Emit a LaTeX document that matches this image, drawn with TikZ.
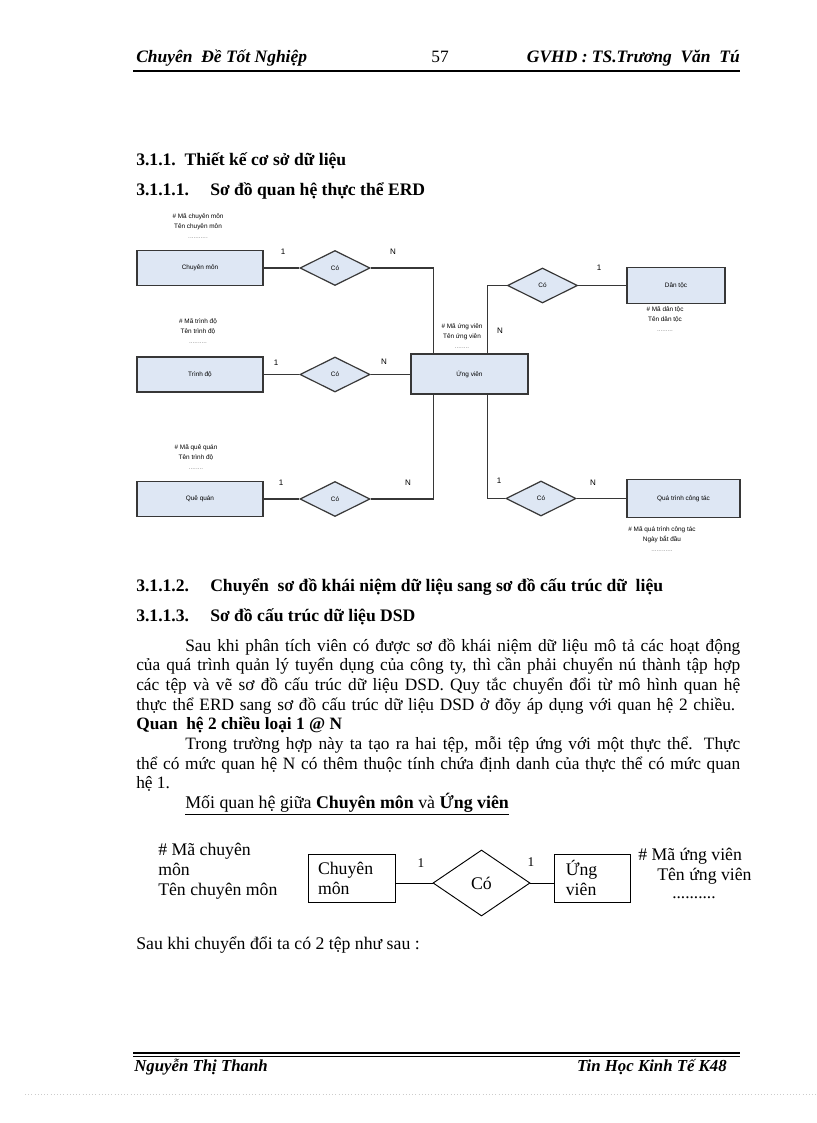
\documentclass[tikz,border=0pt]{standalone}
\usepackage{fontspec}
\setmainfont{Liberation Serif}
\newfontfamily\erdfont{Liberation Sans}
\usetikzlibrary{shapes.geometric, positioning, calc}
\definecolor{erdfill}{RGB}{222,231,244}
\definecolor{erdline}{RGB}{55,55,55}

\begin{document}
\begin{tikzpicture}[
  x=0.75pt, y=-0.75pt,
  every node/.style={inner sep=0pt},
  entity/.style={rectangle, draw=erdline, fill=erdfill, line width=0.9pt,
                 font=\erdfont\fontsize{4.8}{6}\selectfont},
  rel/.style={diamond, draw=erdline, fill=erdfill, line width=0.9pt,
              minimum width=52.5pt, minimum height=26.25pt,
              font=\erdfont\fontsize{4.8}{6}\selectfont},
  attr/.style={align=center, font=\erdfont\fontsize{4.8}{7.5}\selectfont},
  card/.style={font=\erdfont\fontsize{6}{7}\selectfont},
  link/.style={draw=erdline, line width=0.9pt},
  bodyline/.style={anchor=base west, font=\fontsize{13}{15}\selectfont},
  heading/.style={anchor=base west, font=\bfseries\fontsize{13.2}{15}\selectfont},
  runhead/.style={font=\bfseries\itshape\fontsize{13.1}{15}\selectfont},
  filebox/.style={rectangle, draw, line width=0.7pt, minimum height=36pt,
                  align=left, font=\fontsize{13.3}{15}\selectfont},
]

\path[fill=white] (0,0) rectangle (816,1123);

% Header
\node[runhead, anchor=base west] (hleft) at (136,63) {Chuyên\ \ Đề Tốt Nghiệp};
\node[anchor=base, font=\fontsize{13}{15}\selectfont] (hpage) at (440,63) {57};
\node[runhead, anchor=base east] (hright) at (740,63) {GVHD\ : TS.Trương\ \ Văn\ \ Tú};
\draw[line width=1.5pt] (133,71) -- (740,71);

% Headings
\node[heading] (h1) at (136,166) {3.1.1.\ \ Thiết kế cơ sở dữ liệu};
\node[heading] (h2num) at (136,196) {3.1.1.1.};
\node[heading] (h2) at (210,196) {Sơ đồ quan hệ thực thể ERD};

% ERD: entities
\node[entity, minimum width=94.5pt, minimum height=26.25pt] (cm) at (200,268) {Chuyên môn};
\node[entity, minimum width=94.5pt, minimum height=26.25pt] (td) at (200,374.5) {Trình độ};
\node[entity, minimum width=94.5pt, minimum height=26.25pt] (qq) at (200,499) {Quê quán};
\node[entity, minimum width=87.75pt, minimum height=30pt] (uv) at (469.5,374) {Ứng viên};
\node[entity, minimum width=73.5pt, minimum height=27pt] (dt) at (676,285.5) {Dân tộc};
\node[entity, minimum width=84.75pt, minimum height=28.5pt] (qt) at (683.5,498.5) {Quá trình công tác};

% ERD: relationships
\node[rel] (coCM) at (335,268) {Có};
\node[rel] (coTD) at (335,374.5) {Có};
\node[rel] (coQQ) at (335,499) {Có};
\node[rel] (coDT) at (542.5,285.5) {Có};
\node[rel] (coQT) at (541,498.5) {Có};

% ERD: attributes
\node[attr] (aCM) at (198,226) {\# Mã chuyên môn\\Tên chuyên môn\\\textcolor{gray}{...........}};
\node[attr] (aTD) at (198,331) {\# Mã trình độ\\Tên trình độ\\\textcolor{gray}{..........}};
\node[attr] (aQQ) at (196,457) {\# Mã quê quán\\Tên trình độ\\\textcolor{gray}{........}};
\node[attr] (aUV) at (462,336) {\# Mã ứng viên\\Tên ứng viên\\\textcolor{gray}{........}};
\node[attr] (aDT) at (665,319) {\# Mã dân tộc\\Tên dân tộc\\\textcolor{gray}{.........}};
\node[attr] (aQT) at (662,539) {\# Mã quá trình công tác\\Ngày bắt đầu\\\textcolor{gray}{............}};

% ERD: connectors
\draw[link] (cm.east) -- (coCM.west);
\draw[link] (coCM.east) -| ([xshift=17.25pt]uv.north west);
\draw[link] (td.east) -- (coTD.west);
\draw[link] (coTD.east) -- (coTD.east -| uv.west);
\draw[link] (qq.east) -- (coQQ.west);
\draw[link] (coQQ.east) -| ([xshift=17.25pt]uv.south west);
\draw[link] (coDT.west) -| ([xshift=57.75pt]uv.north west);
\draw[link] (coDT.east) -- (dt.west);
\draw[link] (coQT.west) -| ([xshift=57.75pt]uv.south west);
\draw[link] (coQT.east) -- (qt.west);

% ERD: cardinalities
\node[card] (c1) at (283,252) {1};
\node[card] (c2) at (393,252) {N};
\node[card] (c3) at (276,363) {1};
\node[card] (c4) at (384,362) {N};
\node[card] (c5) at (281,483) {1};
\node[card] (c6) at (408,483) {N};
\node[card] (c7) at (599,268) {1};
\node[card] (c8) at (500,331) {N};
\node[card] (c9) at (499,481) {1};
\node[card] (c10) at (593,483) {N};

% Headings
\node[heading] (h3num) at (136,591) {3.1.1.2.};
\node[heading] (h3) at (210,591) {Chuyển\ \ sơ đồ khái niệm dữ liệu sang sơ đồ cấu trúc dữ\ \ liệu};
\node[heading] (h4num) at (136,621) {3.1.1.3.};
\node[heading] (h4) at (210,621) {Sơ đồ cấu trúc dữ liệu DSD};

% Body text
\node[bodyline] (l1) at (185,651) {\makebox[416.25pt][s]{Sau khi phân tích viên có được sơ đồ khái niệm dữ liệu mô tả các hoạt động}};
\node[bodyline] (l2) at (136,670) {\makebox[453pt][s]{của quá trình quản lý tuyển dụng của công ty, thì cần phải chuyển nú thành tập hợp}};
\node[bodyline] (l3) at (136,690) {\makebox[453pt][s]{các tệp và vẽ sơ đồ cấu trúc dữ liệu DSD. Quy tắc chuyển đổi từ mô hình quan hệ}};
\node[bodyline] (l4) at (136,710) {\makebox[449.25pt][s]{thực thể ERD sang sơ đồ cấu trúc dữ liệu DSD ở đõy áp dụng với quan hệ 2 chiều.}};
\node[bodyline, font=\bfseries\fontsize{13}{15}\selectfont] (l5) at (136,729) {Quan\ \ hệ 2 chiều loại 1 @ N};
\node[bodyline] (l6) at (185,749) {\makebox[416.25pt][s]{Trong trường hợp này ta tạo ra hai tệp, mỗi tệp ứng với một thực thể. Thực}};
\node[bodyline] (l7) at (136,769) {\makebox[453pt][s]{thể có mức quan hệ N có thêm thuộc tính chứa định danh của thực thể có mức quan}};
\node[bodyline] (l8) at (136,788) {hệ 1.};
\node[bodyline, font=\fontsize{13.4}{15}\selectfont] (l9) at (185,808) {\underline{Mối quan hệ giữa \textbf{Chuyên môn} và \textbf{Ứng viên}}};

% Small diagram
\node[filebox, minimum width=65.25pt, text width=50.25pt, inner xsep=7.5pt] (cm2) at (351.5,878) {Chuyên\\môn};
\node[diamond, draw, line width=0.7pt, minimum width=72.75pt, minimum height=49.5pt,
      font=\fontsize{13.3}{15}\selectfont] (co2) at (481.5,883) {Có};
\node[filebox, minimum width=56.25pt, text width=40pt, inner xsep=8.25pt] (uv2) at (592.5,878) {Ứng\\viên};
\draw[line width=0.7pt] (co2.west) -- (co2.west -| cm2.east);
\draw[line width=0.7pt] (co2.east) -- (co2.east -| uv2.west);
\node[font=\fontsize{10}{12}\selectfont] (k1) at (421,863) {1};
\node[font=\fontsize{10}{12}\selectfont] (k2) at (531,862) {1};
\node[align=left, anchor=west, font=\fontsize{13.3}{15}\selectfont] (acm2) at (158,871) {\# Mã chuyên\\môn\\Tên chuyên môn};
\node[bodyline, font=\fontsize{13.3}{15}\selectfont] (auv2a) at (638,860) {\# Mã ứng viên};
\node[bodyline, font=\fontsize{13.3}{15}\selectfont] (auv2b) at (657,880) {Tên ứng viên};
\node[bodyline] (auv2c) at (672,898) {..........};

\node[bodyline, font=\fontsize{13.3}{15}\selectfont] (l10) at (136,949) {Sau khi chuyển đổi ta có 2 tệp như sau :};

% Footer
\draw[line width=1.9pt] (133,1053) -- (740,1053);
\draw[line width=0.75pt] (133,1056.5) -- (740,1056.5);
\node[runhead, anchor=base west, font=\bfseries\itshape\fontsize{12.6}{15}\selectfont] (fleft) at (134,1071) {Nguyễn Thị Thanh};
\node[runhead, anchor=base east, font=\bfseries\itshape\fontsize{12.6}{15}\selectfont] (fright) at (727,1071) {Tin Học Kinh Tế K48};
\draw[gray!40, dotted] (25,1094) -- (816,1094);

\end{tikzpicture}
\end{document}
